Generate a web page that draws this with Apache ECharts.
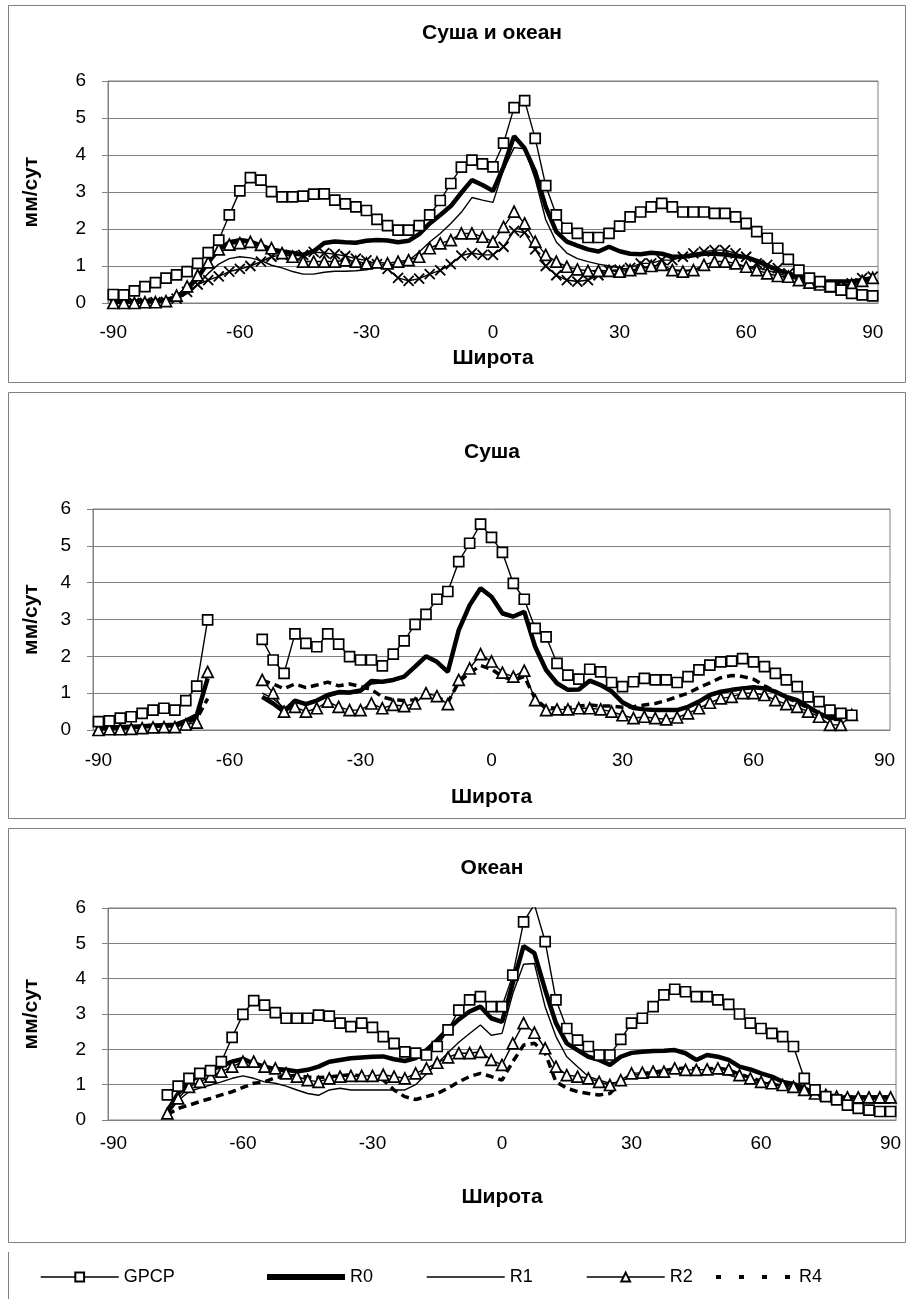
<!DOCTYPE html>
<html><head><meta charset="utf-8">
<script src="https://cdn.jsdelivr.net/npm/echarts@6/dist/echarts.min.js"></script>
<style>html,body{margin:0;padding:0;background:#fff}#c{width:907px;height:1299px}</style>
</head><body><div id="c"></div>
<script>
// ---------- DATA ----------
const categories = ['-90','-87.5','-85','-82.5','-80','-77.5','-75','-72.5','-70','-67.5',
 '-65','-62.5','-60','-57.5','-55','-52.5','-50','-47.5','-45','-42.5',
 '-40','-37.5','-35','-32.5','-30','-27.5','-25','-22.5','-20','-17.5',
 '-15','-12.5','-10','-7.5','-5','-2.5','0','2.5','5','7.5',
 '10','12.5','15','17.5','20','22.5','25','27.5','30','32.5',
 '35','37.5','40','42.5','45','47.5','50','52.5','55','57.5',
 '60','62.5','65','67.5','70','72.5','75','77.5','80','82.5',
 '85','87.5','90'];
const xTickLabels = ['-90','-60','-30','0','30','60','90'];
const panelTitles = ['Суша и океан','Суша','Океан'];
const xAxisName = 'Широта';
const yAxisName = 'мм/сут';
const legendNames = ['GPCP','R0','R1','R2','R4'];

// Panel 1: Суша и океан
const p1GPCP = [0.23,0.22,0.33,0.44,0.55,0.67,0.76,0.85,1.07,1.36,
 1.70,2.38,3.03,3.39,3.32,3.01,2.87,2.87,2.89,2.94,
 2.95,2.78,2.68,2.60,2.50,2.26,2.09,1.97,1.97,2.09,
 2.38,2.77,3.23,3.67,3.86,3.76,3.68,4.32,5.28,5.47,
 4.45,3.17,2.38,2.02,1.88,1.77,1.77,1.88,2.08,2.33,
 2.46,2.60,2.69,2.60,2.46,2.46,2.46,2.42,2.42,2.33,
 2.15,1.93,1.75,1.48,1.18,0.89,0.67,0.58,0.44,0.35,
 0.26,0.22,0.19];
const p1R0 = [0.03,0.03,0.04,0.05,0.05,0.08,0.16,0.38,0.68,1.10,
 1.45,1.64,1.70,1.66,1.55,1.45,1.39,1.35,1.30,1.40,
 1.62,1.66,1.64,1.63,1.68,1.70,1.69,1.64,1.68,1.86,
 2.15,2.38,2.62,2.98,3.32,3.19,3.03,3.68,4.51,4.18,
 3.55,2.60,1.93,1.66,1.55,1.45,1.39,1.52,1.40,1.33,
 1.32,1.36,1.33,1.25,1.25,1.29,1.33,1.33,1.31,1.27,
 1.24,1.14,1.01,0.89,0.80,0.71,0.62,0.58,0.58,0.58,
 0.58,0.62,0.66];
const p1R1 = [0.02,0.02,0.03,0.03,0.04,0.05,0.10,0.25,0.50,0.80,
 1.05,1.20,1.25,1.22,1.15,1.02,0.95,0.85,0.78,0.78,
 0.83,0.86,0.86,0.87,0.90,0.97,1.00,1.05,1.15,1.38,
 1.65,1.88,2.15,2.45,2.85,2.78,2.72,3.60,4.20,4.17,
 3.35,2.25,1.65,1.35,1.20,1.12,1.05,1.00,0.95,0.90,
 0.87,0.88,0.90,0.90,0.88,0.90,0.95,1.00,1.02,1.02,
 1.00,0.95,0.88,0.80,0.72,0.63,0.57,0.53,0.50,0.50,
 0.50,0.52,0.55];
const p1R2 = [0.00,0.00,0.00,0.02,0.02,0.05,0.20,0.45,0.75,1.10,
 1.45,1.58,1.62,1.65,1.57,1.48,1.35,1.25,1.12,1.12,
 1.12,1.12,1.15,1.12,1.07,1.10,1.07,1.12,1.16,1.25,
 1.48,1.61,1.70,1.88,1.88,1.79,1.66,2.06,2.47,2.15,
 1.66,1.30,1.12,0.98,0.91,0.87,0.87,0.87,0.85,0.89,
 0.94,1.00,1.03,0.89,0.85,0.89,1.03,1.12,1.12,1.07,
 0.98,0.89,0.80,0.73,0.71,0.62,0.55,0.50,0.45,0.45,
 0.50,0.60,0.68];
const p1R4 = [0.00,0.00,0.00,0.00,0.02,0.03,0.12,0.30,0.50,0.62,
 0.72,0.85,0.92,1.00,1.12,1.25,1.30,1.27,1.30,1.38,
 1.35,1.32,1.27,1.20,1.15,1.05,0.92,0.68,0.60,0.66,
 0.78,0.88,1.05,1.28,1.35,1.30,1.30,1.52,1.95,1.90,
 1.45,1.00,0.75,0.62,0.58,0.62,0.75,0.88,0.90,0.95,
 1.07,1.07,1.16,1.16,1.25,1.34,1.39,1.43,1.43,1.34,
 1.25,1.07,1.03,0.94,0.80,0.67,0.58,0.50,0.44,0.44,
 0.53,0.67,0.71];

// Panel 2: Суша
const p2GPCP = [0.23,0.25,0.32,0.36,0.45,0.54,0.59,0.54,0.80,1.19,
 2.99,null,null,null,null,2.46,1.90,1.54,2.61,2.35,
 2.26,2.61,2.33,1.99,1.90,1.90,1.74,2.06,2.42,2.87,
 3.14,3.55,3.76,4.57,5.07,5.59,5.23,4.82,3.98,3.55,
 2.76,2.53,1.81,1.49,1.38,1.65,1.58,1.29,1.18,1.31,
 1.40,1.36,1.36,1.29,1.45,1.63,1.76,1.85,1.87,1.94,
 1.85,1.72,1.54,1.36,1.18,0.90,0.77,0.54,0.45,0.40,
 null,null,null];
const p2R0 = [0.05,0.06,0.08,0.09,0.10,0.12,0.13,0.14,0.25,0.40,
 1.40,null,null,null,null,0.90,0.72,0.50,0.80,0.70,
 0.80,0.95,1.03,1.02,1.07,1.33,1.31,1.36,1.45,1.72,
 2.00,1.85,1.58,2.71,3.39,3.85,3.62,3.17,3.08,3.21,
 2.26,1.63,1.27,1.09,1.10,1.34,1.22,1.05,0.75,0.60,
 0.56,0.54,0.54,0.54,0.63,0.77,0.95,1.04,1.09,1.13,
 1.16,1.13,1.04,0.90,0.81,0.63,0.45,0.32,0.35,0.45,
 null,null,null];
const p2R1 = [0.04,0.05,0.07,0.08,0.09,0.11,0.12,0.13,0.22,0.35,
 1.30,null,null,null,null,1.00,0.85,0.60,0.75,0.70,
 0.78,0.90,0.98,0.98,1.02,1.25,1.28,1.33,1.42,1.70,
 1.97,1.83,1.55,2.68,3.35,3.80,3.58,3.12,3.05,3.18,
 2.22,1.60,1.25,1.07,1.08,1.30,1.20,1.03,0.73,0.58,
 0.54,0.52,0.52,0.52,0.61,0.75,0.92,1.01,1.06,1.10,
 1.13,1.10,1.01,0.88,0.78,0.60,0.43,0.30,0.33,0.43,
 null,null,null];
const p2R2 = [0.00,0.02,0.02,0.03,0.05,0.07,0.08,0.08,0.15,0.20,
 1.58,null,null,null,null,1.36,1.00,0.50,0.63,0.50,
 0.59,0.77,0.63,0.54,0.54,0.72,0.59,0.68,0.65,0.72,
 1.00,0.92,0.70,1.36,1.67,2.06,1.86,1.56,1.45,1.61,
 0.81,0.54,0.56,0.56,0.59,0.59,0.56,0.50,0.40,0.32,
 0.36,0.32,0.29,0.34,0.45,0.59,0.74,0.86,0.90,1.00,
 1.00,0.95,0.81,0.70,0.63,0.50,0.36,0.14,0.14,0.41,
 null,null,null];
const p2R4 = [0.05,0.06,0.07,0.08,0.10,0.12,0.13,0.14,0.20,0.30,
 0.85,null,null,null,null,1.35,1.25,1.12,1.25,1.15,
 1.22,1.30,1.20,1.25,1.18,1.10,0.90,0.82,0.80,0.82,
 0.95,0.90,0.75,1.30,1.55,1.75,1.65,1.45,1.35,1.45,
 0.85,0.60,0.60,0.60,0.65,0.68,0.65,0.65,0.62,0.63,
 0.68,0.72,0.80,0.90,1.00,1.15,1.28,1.42,1.48,1.45,
 1.38,1.20,1.05,0.88,0.75,0.60,0.45,0.30,0.28,0.40,
 null,null,null];

// Panel 3: Океан
const p3GPCP = [null,null,null,null,null,0.71,0.96,1.18,1.32,1.40,
 1.65,2.34,2.99,3.38,3.25,3.04,2.88,2.88,2.88,2.97,
 2.94,2.74,2.64,2.74,2.62,2.36,2.17,1.93,1.89,1.84,
 2.08,2.55,3.11,3.40,3.49,3.21,3.21,4.10,5.61,6.10,
 5.05,3.40,2.59,2.26,2.08,1.84,1.84,2.28,2.74,2.88,
 3.21,3.54,3.70,3.63,3.49,3.49,3.40,3.27,3.00,2.74,
 2.59,2.45,2.36,2.08,1.18,0.85,0.66,0.57,0.42,0.33,
 0.28,0.24,0.24];
const p3R0 = [null,null,null,null,null,0.25,0.75,1.08,1.27,1.42,
 1.53,1.65,1.73,1.60,1.51,1.44,1.42,1.37,1.42,1.51,
 1.65,1.70,1.75,1.77,1.79,1.80,1.72,1.67,1.75,1.98,
 2.26,2.57,2.85,3.07,3.21,2.88,2.78,3.87,4.92,4.72,
 3.68,2.74,2.17,1.98,1.79,1.70,1.56,1.79,1.90,1.93,
 1.95,1.96,1.98,1.89,1.70,1.84,1.79,1.70,1.51,1.43,
 1.32,1.23,1.08,1.02,0.90,0.75,0.68,0.64,0.64,0.64,
 0.64,0.64,0.64];
const p3R1 = [null,null,null,null,null,0.15,0.55,0.80,0.90,0.99,
 1.08,1.18,1.25,1.18,1.08,1.04,0.96,0.85,0.75,0.70,
 0.85,0.90,0.85,0.85,0.85,0.85,0.85,0.85,1.00,1.30,
 1.60,1.90,2.20,2.45,2.69,2.40,2.45,3.58,4.41,4.43,
 3.20,2.36,1.79,1.51,1.23,1.13,1.04,1.08,1.25,1.32,
 1.32,1.32,1.34,1.32,1.27,1.32,1.32,1.27,1.18,1.08,
 1.06,1.02,0.94,0.87,0.80,0.71,0.64,0.58,0.55,0.52,
 0.49,0.47,0.47];
const p3R2 = [null,null,null,null,null,0.19,0.61,0.94,1.08,1.23,
 1.37,1.51,1.65,1.65,1.51,1.46,1.32,1.23,1.13,1.08,
 1.18,1.23,1.25,1.25,1.25,1.28,1.23,1.18,1.32,1.46,
 1.62,1.77,1.89,1.89,1.93,1.70,1.56,2.17,2.74,2.47,
 2.03,1.51,1.27,1.23,1.18,1.08,0.99,1.13,1.32,1.34,
 1.37,1.37,1.46,1.42,1.42,1.43,1.46,1.43,1.27,1.18,
 1.08,1.04,0.99,0.94,0.85,0.75,0.71,0.66,0.64,0.64,
 0.64,0.64,0.64];
const p3R4 = [null,null,null,null,null,0.15,0.33,0.42,0.52,0.61,
 0.71,0.80,0.92,1.04,1.08,1.20,1.25,1.25,1.22,1.20,
 1.22,1.25,1.28,1.25,1.22,1.13,0.85,0.66,0.58,0.66,
 0.75,0.90,1.08,1.23,1.32,1.23,1.13,1.65,2.12,2.17,
 1.89,1.08,0.90,0.80,0.75,0.71,0.75,1.06,1.25,1.30,
 1.35,1.40,1.45,1.47,1.45,1.45,1.47,1.42,1.30,1.20,
 1.10,1.02,0.97,0.92,0.85,0.78,0.72,0.68,0.65,0.65,
 0.65,0.65,0.65];

// ---------- LAYOUT / STYLE ----------
const FONT = "'Liberation Sans', Arial, sans-serif";
const GRAY = '#808080';
const panels = [
  {grid:{left:108, top:81, width:770, height:222}, box:[8,5,897,377], titleY:33, labelMargin:20, nameGap:45,
   series:{GPCP:p1GPCP, R0:p1R0, R1:p1R1, R2:p1R2, R4:p1R4}, r4:'cross'},
  {grid:{left:93, top:509, width:797, height:221}, box:[8,392,897,426], titleY:452, labelMargin:21, nameGap:57,
   series:{GPCP:p2GPCP, R0:p2R0, R1:p2R1, R2:p2R2, R4:p2R4}, r4:'dash'},
  {grid:{left:108, top:908, width:788, height:212}, box:[8,828,897,414], titleY:868, labelMargin:14, nameGap:67,
   series:{GPCP:p3GPCP, R0:p3R0, R1:p3R1, R2:p3R2, R4:p3R4}, r4:'dash'}
];

function makeSeries(name, data, gi, kind) {
  const s = {name, type:'line', data, xAxisIndex:gi, yAxisIndex:gi, animation:false, showAllSymbol:true,
             connectNulls:false, silent:true, emphasis:{disabled:true}};
  const blackLine = w => ({color:'#000', width:w});
  if (kind === 'GPCP') Object.assign(s, {symbol:'rect', symbolSize:10, lineStyle:blackLine(1.4),
      itemStyle:{color:'#fff', borderColor:'#000', borderWidth:1.7}, z:5});
  else if (kind === 'R0') Object.assign(s, {symbol:'none', lineStyle:blackLine(4.5), itemStyle:{color:'#000'}, z:3});
  else if (kind === 'R1') Object.assign(s, {symbol:'none', lineStyle:blackLine(1.4), itemStyle:{color:'#000'}, z:2});
  else if (kind === 'R2') Object.assign(s, {symbol:'triangle', symbolSize:11, lineStyle:blackLine(1.4),
      itemStyle:{color:'#fff', borderColor:'#000', borderWidth:1.7}, z:4});
  else if (kind === 'dash') Object.assign(s, {symbol:'none', lineStyle:{color:'#000', width:3.5, type:[8,5]},
      itemStyle:{color:'#000'}, z:3});
  else if (kind === 'cross') Object.assign(s, {symbol:'path://M0,0L10,10M10,0L0,10', symbolSize:10,
      lineStyle:blackLine(1.4), itemStyle:{color:'rgba(0,0,0,0)', borderColor:'#000', borderWidth:1.8}, z:4});
  return s;
}

const order = [1,2,0]; // dashed R4 panels first so the legend takes their style
const series = [];
order.forEach(gi => {
  const p = panels[gi];
  series.push(makeSeries('R1', p.series.R1, gi, 'R1'));
  series.push(makeSeries('R0', p.series.R0, gi, 'R0'));
  series.push(makeSeries('R4', p.series.R4, gi, p.r4));
  series.push(makeSeries('R2', p.series.R2, gi, 'R2'));
  series.push(makeSeries('GPCP', p.series.GPCP, gi, 'GPCP'));
});

const graphic = [];
panels.forEach((p, k) => {
  graphic.push({type:'rect', shape:{x:p.box[0]+0.5, y:p.box[1]+0.5, width:p.box[2], height:p.box[3]},
    style:{fill:null, stroke:GRAY, lineWidth:1}, silent:true, z:-10});
  graphic.push({type:'text', x:492, y:p.titleY, silent:true,
    style:{text:panelTitles[k], font:"bold 21px " + FONT, fill:'#000', textAlign:'center', textVerticalAlign:'middle'}});
  graphic.push({type:'text', x:31, y:p.grid.top + p.grid.height/2, rotation:Math.PI/2, silent:true,
    style:{text:yAxisName, font:"bold 21px " + FONT, fill:'#000', textAlign:'center', textVerticalAlign:'middle'}});
});
graphic.push({type:'line', shape:{x1:8.5, y1:1252, x2:8.5, y2:1299}, style:{stroke:GRAY, lineWidth:1}, silent:true});

const legendLeft = [35, 259, 421, 581, 709];
const legendLine = {GPCP:{width:1.4}, R0:{width:6}, R1:{width:1.4}, R2:{width:1.4}, R4:{width:4, type:[5,18]}};
const legendHideSymbol = {R0:true, R1:true, R4:true};
const legend = legendNames.map((n, k) => ({
  data:[n], left:legendLeft[k], top:1263, itemWidth:78, itemHeight:11, selectedMode:false,
  lineStyle:Object.assign({color:'#000'}, legendLine[n]),
  itemStyle: legendHideSymbol[n] ? {opacity:0} : {},
  textStyle:{fontSize:18, fontFamily:FONT, color:'#000'}
}));

const option = {
  backgroundColor:'#fff',
  animation:false,
  textStyle:{fontFamily:FONT},
  grid: panels.map(p => Object.assign({show:true, borderColor:GRAY, borderWidth:1, backgroundColor:'transparent'}, p.grid)),
  xAxis: panels.map((p, k) => ({
    gridIndex:k, type:'category', data:categories, boundaryGap:true,
    axisTick:{show:false},
    axisLine:{show:true, lineStyle:{color:GRAY, width:1}},
    axisLabel:{interval:(i, v) => xTickLabels.includes(v), margin:p.labelMargin, fontSize:19, color:'#000', fontFamily:FONT},
    splitLine:{show:false},
    name:xAxisName, nameLocation:'middle', nameGap:p.nameGap,
    nameTextStyle:{fontSize:21, fontWeight:'bold', color:'#000', fontFamily:FONT}
  })),
  yAxis: panels.map((p, k) => ({
    gridIndex:k, type:'value', min:0, max:6, interval:1,
    axisLine:{show:true, lineStyle:{color:GRAY, width:1}},
    axisTick:{show:true, length:6, lineStyle:{color:GRAY}},
    axisLabel:{margin:22, fontSize:19, color:'#000', fontFamily:FONT},
    splitLine:{show:true, lineStyle:{color:GRAY, width:1}}
  })),
  legend,
  graphic,
  series
};

const chart = echarts.init(document.getElementById('c'), null, {renderer:'canvas'});
chart.setOption(option);
</script>
</body></html>
